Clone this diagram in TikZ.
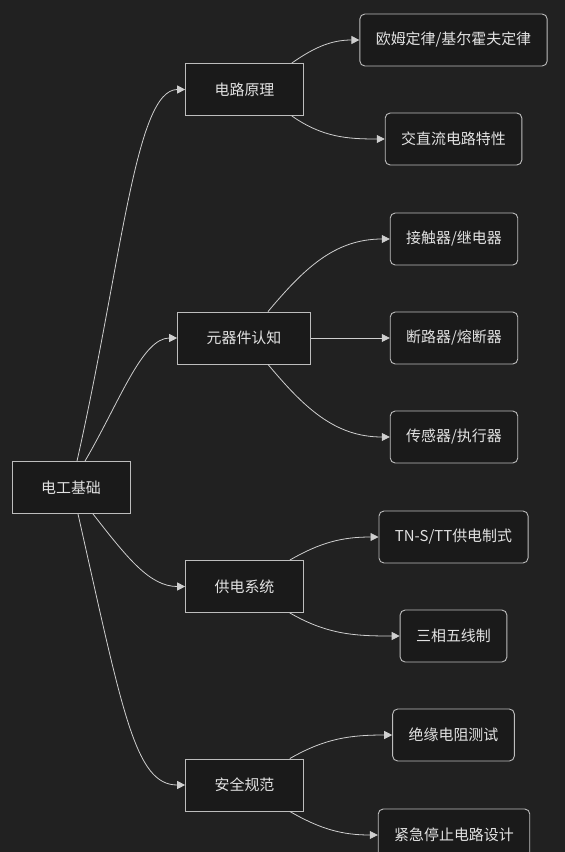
\documentclass[tikz,border=0pt]{standalone}
\usepackage{fontspec}
\usepackage{xcolor}
\usetikzlibrary{arrows.meta}
\newfontfamily\cjk{Noto Sans CJK SC}
\definecolor{mapbg}{HTML}{212121}
\definecolor{mapfill}{HTML}{1A1A1A}
\definecolor{mapedge}{HTML}{BDBDBD}
\definecolor{mapink}{HTML}{E2E2E2}
\definecolor{mapwire}{HTML}{CFCFCF}

\begin{document}
\begin{tikzpicture}[
        x=1bp, y=1bp,
        topic/.style={
            rectangle,
            draw=mapedge,
            line width=0.9pt,
            fill=mapfill,
            text=mapink,
            font=\cjk\fontsize{15}{18}\selectfont,
            align=center,
            inner xsep=29bp,
            minimum height=52bp
        },
        leaf/.style={
            topic,
            rounded corners=5bp,
            inner xsep=16bp
        },
        arrow/.style={-{Triangle[length=8bp, width=8bp]}, line width=0.8pt, draw=mapwire}
    ]
        \fill[mapbg] (0,0) rectangle (565,-852);
        \useasboundingbox (0,0) rectangle (565,-852);

        % root and topics
        \node[topic, minimum width=118bp, inner xsep=0bp] (root) at (71,-487.5) {电工基础};
        \node[topic] (circuit) at (244.5,-89.5) {电路原理};
        \node[topic] (parts) at (244,-338) {元器件认知};
        \node[topic] (supply) at (244.5,-586.5) {供电系统};
        \node[topic] (safety) at (244.5,-785) {安全规范};

        % leaves
        \node[leaf] (ohm) at (453.5,-40) {欧姆定律/基尔霍夫定律};
        \node[leaf] (acdc) at (453.5,-139) {交直流电路特性};
        \node[leaf] (relay) at (454,-239) {接触器/继电器};
        \node[leaf] (breaker) at (454,-338) {断路器/熔断器};
        \node[leaf] (sensor) at (454,-437) {传感器/执行器};
        \node[leaf] (tnst) at (453.5,-537) {TN-S/TT供电制式};
        \node[leaf] (fivewire) at (453.5,-636) {三相五线制};
        \node[leaf] (insul) at (453.5,-735) {绝缘电阻测试};
        \node[leaf] (estop) at (454,-835) {紧急停止电路设计};

        \draw[arrow] ([xshift=6bp]root.north) .. controls +(45,200) and +(-50,0) .. (circuit.west);
        \draw[arrow] ([xshift=14bp]root.north) .. controls +(35,60) and +(-35,0) .. (parts.west);
        \draw[arrow] ([xshift=22bp]root.south) .. controls +(35,-45) and +(-35,0) .. (supply.west);
        \draw[arrow] ([xshift=7bp]root.south) .. controls +(45,-200) and +(-50,0) .. (safety.west);

        \draw[arrow] ([xshift=-12bp]circuit.north east) to[out=35, in=180] (ohm.west);
        \draw[arrow] ([xshift=-12bp]circuit.south east) to[out=-35, in=180] (acdc.west);
        \draw[arrow] ([xshift=24bp]parts.north) to[out=50, in=180] (relay.west);
        \draw[arrow] (parts) -- (breaker);
        \draw[arrow] ([xshift=24bp]parts.south) to[out=-50, in=180] (sensor.west);
        \draw[arrow] ([xshift=-14bp]supply.north east) to[out=30, in=180] (tnst.west);
        \draw[arrow] ([xshift=-14bp]supply.south east) to[out=-30, in=180] (fivewire.west);
        \draw[arrow] ([xshift=-14bp]safety.north east) to[out=30, in=180] (insul.west);
        \draw[arrow] ([xshift=-14bp]safety.south east) to[out=-30, in=180] (estop.west);
    \end{tikzpicture}
\end{document}
